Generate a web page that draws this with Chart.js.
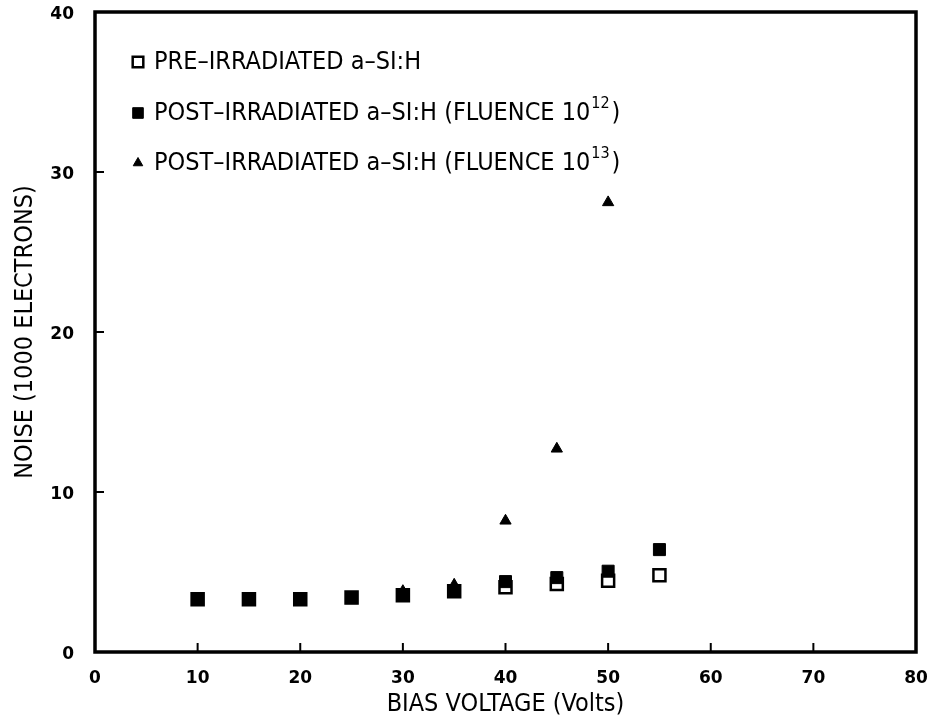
<!DOCTYPE html>
<html>
<head>
<meta charset="utf-8">
<script src="https://cdn.jsdelivr.net/npm/chart.js@4.4.1/dist/chart.umd.min.js"></script>
<style>
  html, body { margin: 0; padding: 0; background: #fff; }
  #wrap { width: 934px; height: 721px; }
</style>
</head>
<body>
<div id="wrap"><canvas id="chart" width="934" height="721"></canvas></div>
<script>
const voltsPre = [10, 15, 20, 25, 30, 35, 40, 45, 50, 55];
const noisePre = [3.3, 3.3, 3.3, 3.4, 3.55, 3.8, 4.05, 4.25, 4.45, 4.8];

const voltsPost12 = [10, 15, 20, 25, 30, 35, 40, 45, 50, 55];
const noisePost12 = [3.3, 3.3, 3.3, 3.4, 3.55, 3.8, 4.4, 4.65, 5.05, 6.4];

const voltsPost13 = [30, 35, 40, 45, 50];
const noisePost13 = [3.8, 4.2, 8.2, 12.7, 28.1];

const xTicks = [0, 10, 20, 30, 40, 50, 60, 70, 80];
const yTicks = [0, 10, 20, 30, 40];

const legendMain = ['PRE\u2013IRRADIATED a\u2013SI:H', 'POST\u2013IRRADIATED a\u2013SI:H (FLUENCE 10', 'POST\u2013IRRADIATED a\u2013SI:H (FLUENCE 10'];
const legendSup = ['', '12', '13'];
const legendTail = ['', ')', ')'];

const toPoints = (xs, ys) => xs.map((x, i) => ({ x: x, y: ys[i] }));

const fontFace = '"DejaVu Sans Condensed", "DejaVu Sans", sans-serif';

// frame, inner tick marks and the legend inside the plot
const paperPlugin = {
    id: 'paper',
    afterDatasetsDraw(chart) {
        const { ctx, chartArea: a, scales } = chart;
        ctx.save();
        ctx.strokeStyle = '#000';
        ctx.lineWidth = 2;
        xTicks.slice(1, -1).forEach(v => {
            const px = scales.x.getPixelForValue(v);
            ctx.beginPath();
            ctx.moveTo(px, a.bottom);
            ctx.lineTo(px, a.bottom - 9);
            ctx.stroke();
        });
        yTicks.slice(1, -1).forEach(v => {
            const py = scales.y.getPixelForValue(v);
            ctx.beginPath();
            ctx.moveTo(a.left, py);
            ctx.lineTo(a.left + 9, py);
            ctx.stroke();
        });
        ctx.lineWidth = 3.5;
        ctx.strokeRect(a.left, a.top, a.right - a.left, a.bottom - a.top);

        // legend
        const rows = [62, 113, 163];
        ctx.textBaseline = 'middle';
        chart.data.datasets.forEach((ds, i) => {
            const y = rows[i];
            ctx.fillStyle = ds.backgroundColor;
            ctx.strokeStyle = ds.borderColor;
            ctx.lineWidth = ds.borderWidth;
            Chart.helpers.drawPoint(ctx, {
                pointStyle: ds.pointStyle,
                radius: ds.pointStyle === 'triangle' ? 5.5 : 7.5,
                borderWidth: ds.borderWidth
            }, 138, y);
            ctx.fillStyle = '#000';
            ctx.font = '25px ' + fontFace;
            let x = 154;
            ctx.fillText(legendMain[i], x, y);
            x += ctx.measureText(legendMain[i]).width + 1;
            if (legendSup[i]) {
                ctx.font = '16px ' + fontFace;
                ctx.fillText(legendSup[i], x, y - 9);
                x += ctx.measureText(legendSup[i]).width + 2;
                ctx.font = '25px ' + fontFace;
                ctx.fillText(legendTail[i], x, y);
            }
        });
        ctx.restore();
    }
};

const ctx = document.getElementById('chart');
new Chart(ctx, {
    type: 'scatter',
    data: {
        datasets: [{
            label: 'PRE-IRRADIATED a-SI:H',
            data: toPoints(voltsPre, noisePre),
            pointStyle: 'rect',
            pointRadius: 8.5,
            backgroundColor: '#fff',
            borderColor: '#000',
            borderWidth: 2.5,
            order: 3
        }, {
            label: 'POST-IRRADIATED a-SI:H (FLUENCE 10^12)',
            data: toPoints(voltsPost12, noisePost12),
            pointStyle: 'rect',
            pointRadius: 8.5,
            backgroundColor: '#000',
            borderColor: '#000',
            borderWidth: 1,
            order: 1
        }, {
            label: 'POST-IRRADIATED a-SI:H (FLUENCE 10^13)',
            data: toPoints(voltsPost13, noisePost13),
            pointStyle: 'triangle',
            pointRadius: 6.5,
            backgroundColor: '#000',
            borderColor: '#000',
            borderWidth: 1,
            order: 2
        }]
    },
    options: {
        responsive: false,
        animation: false,
        layout: { padding: { top: 12, right: 18, left: 0, bottom: 0 } },
        plugins: {
            legend: { display: false },
            tooltip: { enabled: false }
        },
        scales: {
            x: {
                type: 'linear',
                min: 0,
                max: 80,
                afterFit: (s) => { s.height = 69; s.paddingLeft = 0; s.paddingRight = 0; },
                afterBuildTicks: (s) => { s.ticks = xTicks.map(v => ({ value: v })); },
                grid: { display: false },
                border: { display: false },
                ticks: {
                    color: '#000',
                    padding: 8,
                    font: { family: '"DejaVu Sans", sans-serif', size: 17, weight: 'bold' }
                },
                title: {
                    display: true,
                    text: 'BIAS VOLTAGE (Volts)',
                    color: '#000',
                    padding: { top: 0, bottom: 2 },
                    font: { family: fontFace, size: 25 }
                }
            },
            y: {
                min: 0,
                max: 40,
                afterFit: (s) => { s.width = 95; s.paddingTop = 0; s.paddingBottom = 0; },
                afterBuildTicks: (s) => { s.ticks = yTicks.map(v => ({ value: v })); },
                grid: { display: false },
                border: { display: false },
                ticks: {
                    color: '#000',
                    padding: 13,
                    labelOffset: 3,
                    font: { family: '"DejaVu Sans", sans-serif', size: 17, weight: 'bold' }
                },
                title: {
                    display: true,
                    text: 'NOISE (1000 ELECTRONS)',
                    color: '#000',
                    padding: { top: 10, bottom: 0 },
                    font: { family: fontFace, size: 25 }
                }
            }
        }
    },
    plugins: [paperPlugin]
});
</script>
</body>
</html>
